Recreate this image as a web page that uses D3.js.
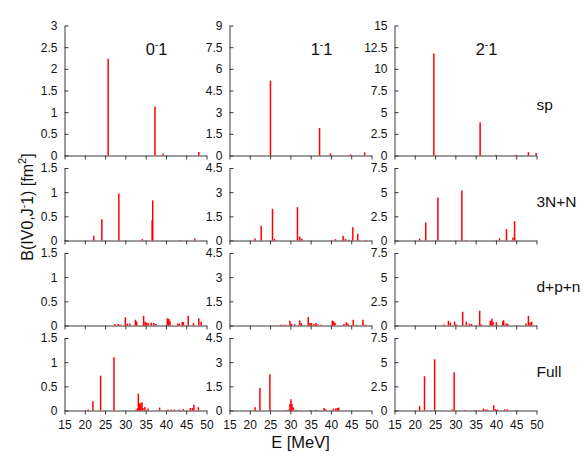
<!DOCTYPE html>
<html>
<head>
<meta charset="utf-8">
<script src="https://cdn.jsdelivr.net/npm/d3@7"></script>
<style>
  body { margin: 0; background: #fff; }
  svg { font-family: "Liberation Sans", Arial, sans-serif; }
</style>
</head>
<body>
<svg id="chart" width="588" height="462"></svg>
<script>
// rows (decomposition) and columns (J^pi T)
const rowNames = ['sp', '3N+N', 'd+p+n', 'Full'];
const colJ = ['0', '1', '2'];
const yMaxTop = [3, 9, 15];
const yMaxRest = [1.5, 4.5, 7.5];
const yStep = [0.5, 1.5, 2.5];
const xTicks = [15, 20, 25, 30, 35, 40, 45, 50];

// [E (MeV), B] pairs
const sp0 = [[25.76, 2.23], [37.3, 1.13], [39.3, 0.04], [48.1, 0.08]];
const sp1 = [[25.1, 5.18], [37.2, 1.91], [39.9, 0.15], [44.8, 0.08], [48.3, 0.22]];
const sp2 = [[24.7, 11.78], [36.1, 3.84], [40, 0.1], [45, 0.1], [48, 0.39], [49.9, 0.28]];

const tnn0 = [[22.2, 0.1], [24.2, 0.44], [28.4, 0.97], [34.2, 0.03], [36.6, 0.42], [36.75, 0.83],
  [43.4, 0.01], [47.1, 0.04]];
const tnn1 = [[21.3, 0.12], [22.8, 0.91], [25.6, 1.97], [26.1, 0.1], [31.75, 2.07], [32.3, 0.25],
  [32.8, 0.12], [41.1, 0.08], [43, 0.29], [43.6, 0.1], [44.4, 0.05], [45.4, 0.83], [46.6, 0.42],
  [48.6, 0.03]];
const tnn2 = [[21.2, 0.2], [22.7, 1.87], [25.7, 4.46], [31.6, 5.18], [32.7, 0.05], [40.9, 0.23],
  [42.6, 1.18], [44.2, 0.3], [44.6, 2.0]];

const dpn0 = [[27.4, 0.03], [28.2, 0.03], [28.7, 0.02], [30, 0.17], [30.5, 0.04], [31.1, 0.04],
  [32.5, 0.12], [32.8, 0.08], [34.5, 0.2], [34.85, 0.08], [35.2, 0.06], [35.6, 0.05], [36.4, 0.06],
  [37, 0.05], [37.5, 0.03], [40.35, 0.15], [40.7, 0.14], [41, 0.1], [42.9, 0.04], [43.3, 0.04],
  [44, 0.07], [44.3, 0.07], [45.5, 0.2], [46.8, 0.05], [48.1, 0.15], [48.7, 0.08]];
const dpn1 = [[27.6, 0.05], [28.2, 0.05], [28.8, 0.05], [29.9, 0.29], [30.3, 0.1], [31.1, 0.08],
  [32.3, 0.31], [32.7, 0.15], [34.4, 0.52], [34.8, 0.15], [35.2, 0.15], [35.8, 0.1], [36.3, 0.15],
  [36.8, 0.08], [37.6, 0.05], [40.35, 0.31], [40.7, 0.25], [41, 0.15], [43.2, 0.1], [43.8, 0.2],
  [44.2, 0.12], [45.5, 0.35], [46.2, 0.05], [47.9, 0.35], [48.5, 0.05]];
const dpn2 = [[27.2, 0.1], [28.3, 0.49], [28.8, 0.3], [29.8, 0.4], [30.2, 0.1], [31.8, 1.42],
  [32.7, 0.4], [33.5, 0.2], [34, 0.15], [36, 1.52], [36.4, 0.1], [38.6, 0.5], [39, 0.69],
  [39.3, 0.4], [40.1, 0.35], [41.7, 0.45], [41.9, 0.55], [42.5, 0.2], [42.9, 0.2], [47.4, 0.2],
  [48, 1.0], [48.4, 0.3], [48.8, 0.4]];

const full0 = [[20.85, 0.02], [22, 0.19], [23.9, 0.72], [27.2, 1.1], [32.7, 0.02], [33.05, 0.05],
  [33.2, 0.35], [33.5, 0.15], [33.8, 0.15], [34.1, 0.17], [34.35, 0.05], [34.8, 0.07], [35.6, 0.04],
  [38.45, 0.06], [40.5, 0.02], [41.3, 0.02], [42.1, 0.02], [43.3, 0.02], [44.3, 0.03], [46, 0.05],
  [46.5, 0.05], [46.9, 0.12], [48, 0.07]];
const full1 = [[21.3, 0.2], [22.5, 1.4], [24.95, 2.25], [28.6, 0.03], [29.5, 0.05], [29.9, 0.4],
  [30.15, 0.7], [30.4, 0.4], [30.7, 0.2], [31.4, 0.05], [34.8, 0.03], [36.3, 0.04], [38.3, 0.15],
  [38.7, 0.08], [40.6, 0.12], [41.2, 0.12], [41.6, 0.15], [41.9, 0.18]];
const full2 = [[21.2, 0.45], [22.4, 3.55], [24.9, 5.3], [29.2, 0.1], [29.7, 3.96], [32.3, 0.05],
  [34.7, 0.05], [35.9, 0.05], [36.9, 0.2], [37.3, 0.1], [37.9, 0.1], [39.45, 0.55], [39.9, 0.15],
  [40.4, 0.1], [42.2, 0.12], [42.8, 0.12], [45.3, 0.05]];

const panelData = [
  [sp0, sp1, sp2],
  [tnn0, tnn1, tnn2],
  [dpn0, dpn1, dpn2],
  [full0, full1, full2]
];

// layout
const colLeft = [64.5, 229.5, 394.5];
const colW = 142;
const rowBottom = [155.5, 240.5, 325.5, 410.5];
const rowH = [130, 72.5, 72.5, 72.5];
const labelRise = [46, 33.5, 34, 34];
const axisColor = '#3a3a3a';

const svg = d3.select('#chart');

function styleAxis(g) {
  g.attr('font-family', null).attr('font-size', null);
  g.selectAll('path.domain, line').attr('stroke', axisColor).attr('stroke-width', 1);
  g.selectAll('text').attr('fill', '#111').style('font-size', '12px');
}

rowNames.forEach((rowName, r) => {
  colJ.forEach((j, c) => {
    const yMax = r === 0 ? yMaxTop[c] : yMaxRest[c];
    const x = d3.scaleLinear().domain([15, 50]).range([colLeft[c], colLeft[c] + colW]);
    const y = d3.scaleLinear().domain([0, yMax]).range([rowBottom[r], rowBottom[r] - rowH[r]]);
    const yTicks = d3.range(0, yMax + 1e-6, yStep[c]);

    const panel = svg.append('g').attr('class', `panel r${r} c${c}`);

    panel.append('g')
      .attr('transform', `translate(${colLeft[c]},0)`)
      .call(d3.axisLeft(y).tickValues(yTicks).tickSizeInner(-4).tickSizeOuter(0)
        .tickPadding(7).tickFormat(d => String(+d.toFixed(2))))
      .call(styleAxis);

    panel.append('g')
      .attr('transform', `translate(0,${rowBottom[r]})`)
      .call(d3.axisBottom(x).tickValues(xTicks).tickSizeInner(4).tickSizeOuter(0)
        .tickPadding(6).tickFormat(r === rowNames.length - 1 ? d3.format('d') : ''))
      .call(styleAxis);

    panel.append('g')
      .attr('class', 'bars')
      .selectAll('line')
      .data(panelData[r][c])
      .enter().append('line')
      .attr('x1', d => x(d[0]))
      .attr('x2', d => x(d[0]))
      .attr('y1', y(0))
      .attr('y2', d => y(d[1]))
      .attr('stroke', '#ff0000')
      .attr('stroke-width', 1.5);

    // column title on the top row
    if (r === 0) {
      const t = panel.append('text')
        .attr('x', colLeft[c] + 92)
        .attr('y', 55)
        .attr('text-anchor', 'middle')
        .style('font-size', '16.5px')
        .attr('fill', '#111');
      t.append('tspan').text(j);
      t.append('tspan').attr('dy', -7).style('font-size', '10px').text('-');
      t.append('tspan').attr('dy', 7).text('1');
    }
    // row label at the right
    if (c === colJ.length - 1) {
      svg.append('text')
        .attr('x', 536.5)
        .attr('y', rowBottom[r] - labelRise[r])
        .style('font-size', '15.5px')
        .attr('fill', '#111')
        .text(rowName);
    }
  });
});

// axis titles
svg.append('text')
  .attr('x', colLeft[1] + colW / 2)
  .attr('y', 448)
  .attr('text-anchor', 'middle')
  .style('font-size', '16.5px')
  .attr('fill', '#111')
  .text('E [MeV]');

const yl = svg.append('text')
  .attr('transform', 'translate(33,207) rotate(-90)')
  .attr('text-anchor', 'middle')
  .style('font-size', '16px')
  .attr('fill', '#111');
yl.append('tspan').text('B(IV0,J');
yl.append('tspan').attr('dy', -6).style('font-size', '10px').text('-');
yl.append('tspan').attr('dy', 6).text('1) [fm');
yl.append('tspan').attr('dy', -7).style('font-size', '11px').text('2');
yl.append('tspan').attr('dy', 7).text(']');
</script>
</body>
</html>
